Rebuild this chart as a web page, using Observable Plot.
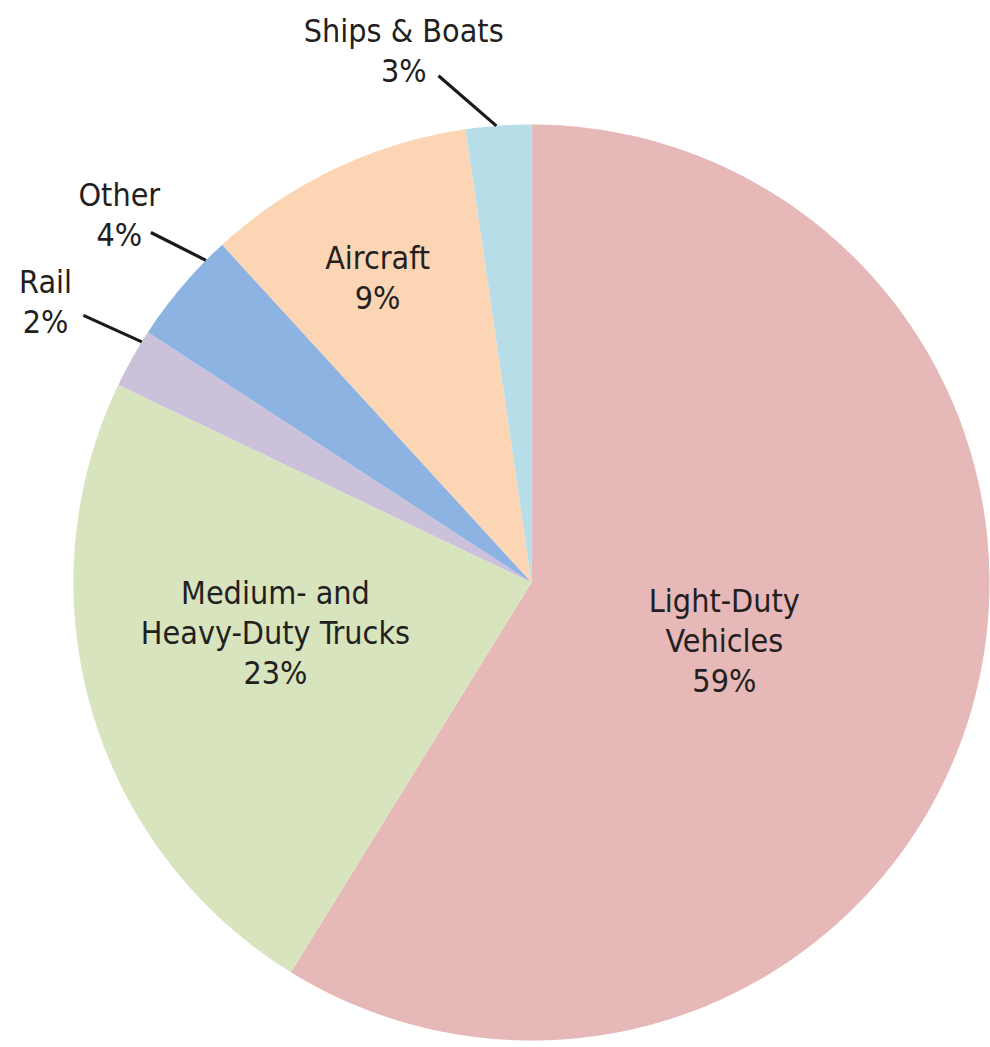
<!DOCTYPE html>
<html><head><meta charset="utf-8">
<script src="https://cdn.jsdelivr.net/npm/d3@7"></script>
<script src="https://cdn.jsdelivr.net/npm/@observablehq/plot@0.6"></script>
<style>body{margin:0;background:#fff;} #chart svg{display:block}</style>
</head><body><div id="chart"></div>
<script>
// ---- data (clockwise from 12 o'clock) ----
const categories = ["Light-Duty Vehicles", "Medium- and Heavy-Duty Trucks", "Rail", "Other", "Aircraft", "Ships & Boats"];
const shares = [58.8, 23.3, 2.1, 4.0, 9.5, 2.3];            // slice sizes
const percentLabels = ["59%", "23%", "2%", "4%", "9%", "3%"]; // printed labels
const nameLines = [["Light-Duty", "Vehicles"], ["Medium- and", "Heavy-Duty Trucks"], ["Rail"], ["Other"], ["Aircraft"], ["Ships & Boats"]];
const colors = ["#e6b8b7", "#d7e4bd", "#ccc1da", "#8db3e2", "#fcd5b4", "#b7dee8"];

// ---- layout (label anchors in pie-radius units, baseline of last line) ----
const labelAnchor = [[0.421, -0.240], [-0.559, -0.221], [-1.061, 0.544], [-0.900, 0.734], [-0.336, 0.598], [-0.279, 1.092]];
// leaders: slice index, inner angle (deg), outer angle (deg), outer radius
const leaderLayout = [[2, 301.7, 300.8, 1.139], [3, 314.7, 312.6, 1.129], [5, 355.6, 349.6, 1.125]];

const arcs = d3.pie().sort(null).value(d => d)(shares);
const slicePts = [];
arcs.forEach((a, i) => {
  const name = categories[i];
  slicePts.push({name, x: 0, y: 0});
  const n = Math.max(2, Math.ceil((a.endAngle - a.startAngle) / (Math.PI / 360)));
  for (let k = 0; k <= n; ++k) {
    const t = a.startAngle + (a.endAngle - a.startAngle) * k / n;
    slicePts.push({name, x: Math.sin(t), y: Math.cos(t)});
  }
  slicePts.push({name, x: 0, y: 0});
});

const rad = d => d * Math.PI / 180;
const leaders = leaderLayout.map(([i, ai, ao, ro]) => ({
  name: categories[i],
  x1: Math.sin(rad(ai)), y1: Math.cos(rad(ai)),
  x2: ro * Math.sin(rad(ao)), y2: ro * Math.cos(rad(ao))
}));

const labels = categories.map((c, i) => ({
  name: c,
  text: [...nameLines[i], percentLabels[i]].join("\n"),
  x: labelAnchor[i][0], y: labelAnchor[i][1]
}));

const chart = Plot.plot({
  width: 990, height: 1047,
  marginLeft: 73, marginRight: 1, marginTop: 124, marginBottom: 7,
  x: {domain: [-1, 1], axis: null},
  y: {domain: [-1, 1], axis: null},
  color: {domain: categories, range: colors},
  style: {fontFamily: "'DejaVu Sans Condensed', 'Liberation Sans', Arial, sans-serif", background: "#fff"},
  marks: [
    Plot.line(slicePts, {x: "x", y: "y", z: "name", fill: "name", stroke: "none", curve: "linear"}),
    Plot.link(leaders, {x1: "x1", y1: "y1", x2: "x2", y2: "y2", stroke: "#1a1a1a", strokeWidth: 3.2}),
    Plot.text(labels, {x: "x", y: "y", text: "text", lineAnchor: "bottom", textAnchor: "middle",
      fontSize: 32, lineHeight: 1.25, fill: "#231f20"})
  ]
});
document.getElementById("chart").append(chart);
</script>
</body></html>
